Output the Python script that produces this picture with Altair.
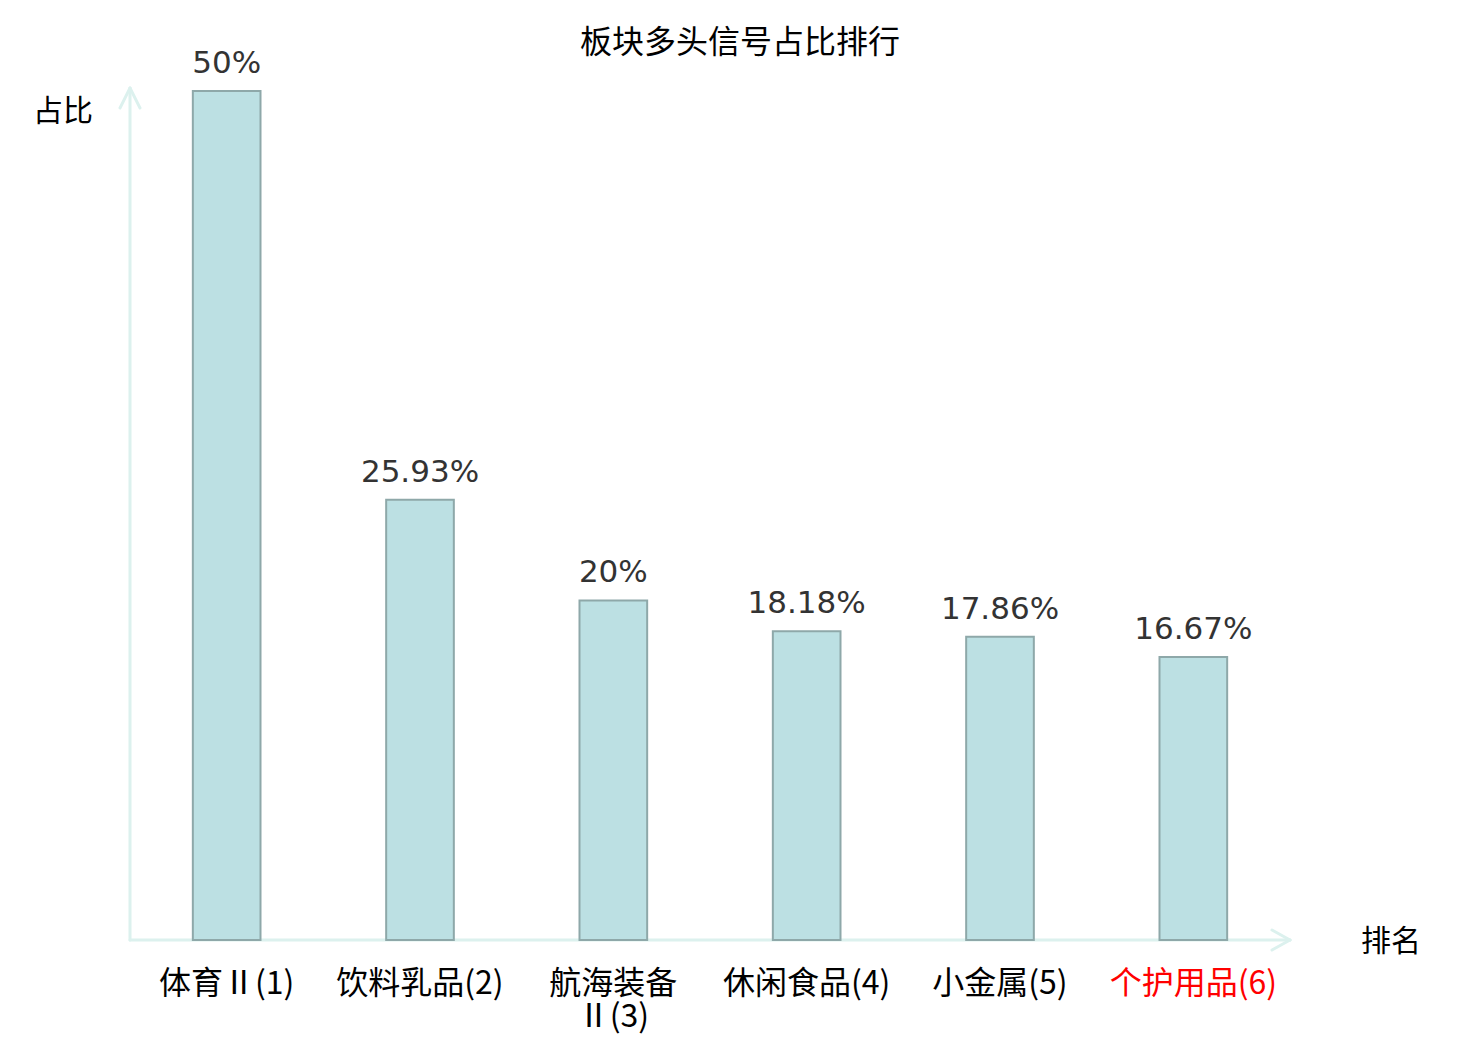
import altair as alt
import pandas as pd

categories = ["体育Ⅱ(1)", "饮料乳品(2)", "航海装备\nⅡ(3)", "休闲食品(4)", "小金属(5)", "个护用品(6)"]
values = [50, 25.93, 20, 18.18, 17.86, 16.67]
highlight = "个护用品(6)"

df = pd.DataFrame({
    "name": categories,
    "value": values,
    "label": [f"{v:g}%" for v in values],
})

W, H = 1160, 849
AX = "#dcf1ee"
one = alt.Data(values=[{"a": 1}])

xscale = alt.Scale(domain=categories, paddingInner=0.65, paddingOuter=0.325)
yscale = alt.Scale(domain=[0, 50], nice=False, zero=True)

# axis lines and arrows
def rule(x1, y1, x2, y2):
    return alt.Chart(one).mark_rule(color=AX, strokeWidth=3, strokeCap="round").encode(
        x=alt.value(x1), y=alt.value(y1), x2=alt.value(x2), y2=alt.value(y2))

axes = [
    rule(0, H, 0, -3),
    rule(-10, 17, 0, -3),
    rule(10, 17, 0, -3),
    rule(0, H, W, H),
    rule(W - 18, H - 10, W, H),
    rule(W - 18, H + 10, W, H),
]

bars = alt.Chart(df).mark_bar(fill="#bce0e3", stroke="#8ea8a9", strokeWidth=2).encode(
    x=alt.X("name:N", scale=xscale, sort=categories, title=None,
            axis=alt.Axis(domain=False, ticks=False, labelAngle=0, labelPadding=28,
                          labelFont="Noto Sans CJK SC", labelFontSize=32,
                          labelFontWeight="normal",
                          labelLineHeight=33, labelLimit=400, labelBaseline="top",
                          labelExpr="split(datum.label, '\\n')",
                          labelColor=alt.ExprRef(f"datum.label == '{highlight}' ? '#ff0000' : '#000000'"))),
    y=alt.Y("value:Q", scale=yscale, axis=None),
)

texts = alt.Chart(df).mark_text(font="DejaVu Sans", fontSize=31, color="#333333",
                                baseline="alphabetic", dy=-18).encode(
    x=alt.X("name:N", scale=xscale, sort=categories),
    y=alt.Y("value:Q", scale=yscale),
    text="label:N",
)

title = alt.Chart(one).mark_text(text="板块多头信号占比排行", font="Noto Sans CJK SC",
                                 fontSize=32, color="#000000", baseline="middle").encode(
    x=alt.value(610), y=alt.value(-48))
ytitle = alt.Chart(one).mark_text(text="占比", font="Noto Sans CJK SC", fontSize=30,
                                  color="#000000", baseline="middle").encode(
    x=alt.value(-67), y=alt.value(21))
xtitle = alt.Chart(one).mark_text(text="排名", font="Noto Sans CJK SC", fontSize=30,
                                  color="#000000", baseline="middle").encode(
    x=alt.value(1261), y=alt.value(851))

chart = alt.layer(*axes, bars, texts, title, ytitle, xtitle).properties(
    width=W, height=H,
    background="white",
    autosize=alt.AutoSizeParams(type="none"),
    padding={"left": 122, "top": 83, "right": 180, "bottom": 100},
).configure_view(strokeWidth=0, stroke=None)

chart.save("out.html", embed_options={"renderer": "svg", "actions": False})
